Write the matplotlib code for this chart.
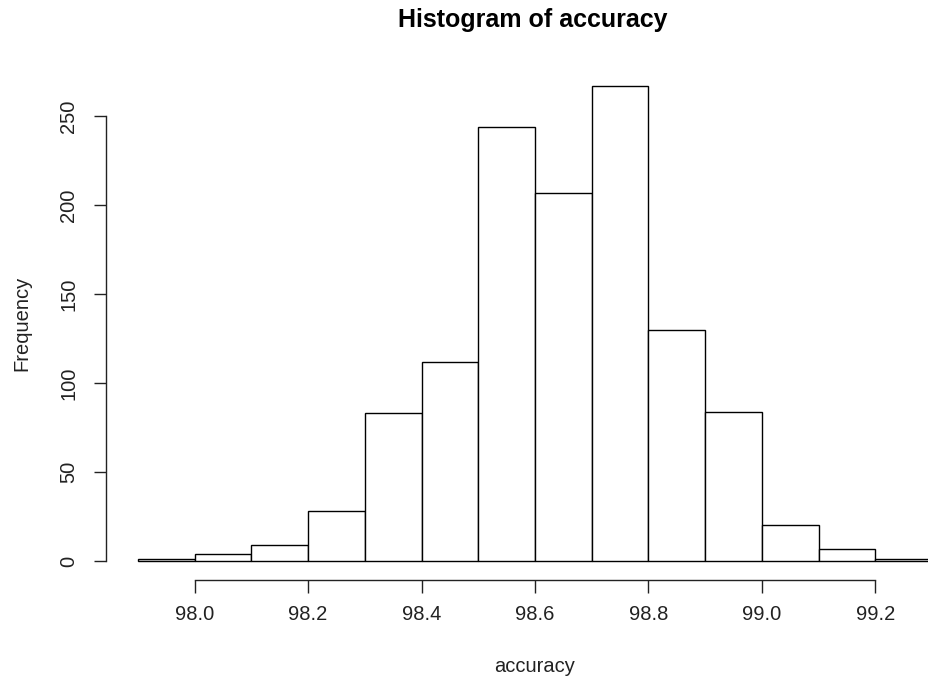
import numpy as np
import matplotlib.pyplot as plt

plt.rcParams['font.family'] = ['Liberation Sans', 'DejaVu Sans']

# histogram bins (width 0.1) and counts
bin_edges = [97.9, 98.0, 98.1, 98.2, 98.3, 98.4, 98.5, 98.6, 98.7,
             98.8, 98.9, 99.0, 99.1, 99.2, 99.3]
counts = [1, 4, 9, 28, 83, 112, 244, 207, 267, 130, 84, 20, 7, 1]
x_ticks = [98.0, 98.2, 98.4, 98.6, 98.8, 99.0, 99.2]
x_tick_labels = ['98.0', '98.2', '98.4', '98.6', '98.8', '99.0', '99.2']
y_ticks = [0, 50, 100, 150, 200, 250]

fig = plt.figure(figsize=(9.29, 6.86), dpi=100)
# R-style plot region: extends past the right edge
ax = fig.add_axes([106 / 929, 106 / 686, 858 / 929, 513 / 686])

lefts = np.array(bin_edges[:-1])
widths = np.diff(bin_edges)
ax.bar(lefts, counts, width=widths, align='edge', facecolor='white',
       edgecolor='black', linewidth=1.0)

span = bin_edges[-1] - bin_edges[0]
ax.set_xlim(bin_edges[0] - 0.04 * span, bin_edges[-1] + 0.04 * span)
ymax = max(counts)
ax.set_ylim(-0.04 * ymax, ymax * 1.04)

for s in ['top', 'right']:
    ax.spines[s].set_visible(False)
ax.spines['left'].set_bounds(0, 250)
ax.spines['bottom'].set_bounds(98.0, 99.2)
for s in ['left', 'bottom']:
    ax.spines[s].set_linewidth(1.0)
    ax.spines[s].set_color('#222222')

ax.set_xticks(x_ticks)
ax.set_xticklabels(x_tick_labels)
ax.set_yticks(y_ticks)
ax.set_yticklabels([str(v) for v in y_ticks], rotation=90, va='center')
ax.tick_params(axis='both', length=9, width=1.0, labelsize=14.5,
               colors='#222222', pad=9)
ax.tick_params(axis='y', pad=11)

ax.set_xlabel('accuracy', fontsize=14.5, labelpad=24, color='#222222')
ax.set_ylabel('Frequency', fontsize=14.5, labelpad=20, color='#222222')
fig.text(533 / 929, 1 - 20 / 686, 'Histogram of accuracy', ha='center',
         va='center', fontsize=18, fontweight='bold')

fig.savefig('out.png', dpi=100)
